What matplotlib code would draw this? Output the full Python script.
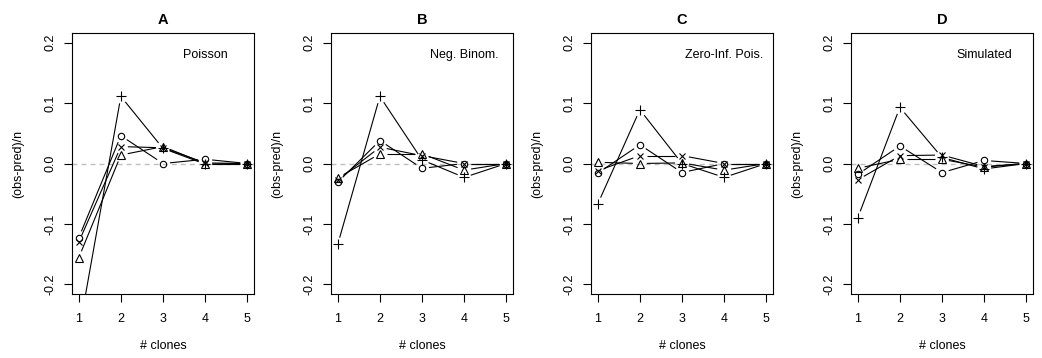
import numpy as np
import matplotlib
matplotlib.use("Agg")
import matplotlib.pyplot as plt

plt.rcParams['font.family'] = ['Liberation Sans', 'DejaVu Sans']

clones = [1, 2, 3, 4, 5]
panel_titles = ["A", "B", "C", "D"]
panel_notes = ["Poisson", "Neg. Binom.", "Zero-Inf. Pois.", "Simulated"]

# (obs-pred)/n for each panel, one list per symbol
circle_vals = [
    [-0.123, 0.046, 0.000, 0.007, 0.000],
    [-0.031, 0.038, -0.008, 0.000, 0.000],
    [-0.016, 0.031, -0.015, 0.000, 0.000],
    [-0.018, 0.029, -0.015, 0.005, 0.000],
]
cross_vals = [
    [-0.130, 0.028, 0.026, 0.001, 0.000],
    [-0.027, 0.027, 0.013, 0.000, 0.000],
    [-0.012, 0.013, 0.013, 0.000, 0.000],
    [-0.027, 0.013, 0.014, -0.005, 0.000],
]
triangle_vals = [
    [-0.156, 0.014, 0.028, 0.000, 0.000],
    [-0.024, 0.016, 0.016, -0.011, 0.000],
    [0.002, 0.000, 0.001, -0.011, 0.000],
    [-0.008, 0.007, 0.007, -0.006, 0.000],
]
plus_vals = [
    [-0.280, 0.111, 0.025, -0.001, 0.000],
    [-0.134, 0.111, 0.006, -0.023, 0.000],
    [-0.067, 0.089, 0.000, -0.023, 0.000],
    [-0.090, 0.093, 0.010, -0.009, 0.000],
]

yticks = [-0.2, -0.1, 0.0, 0.1, 0.2]
ytick_labels = ["-0.2", "-0.1", "0.0", "0.1", "0.2"]

FS = 9
GAP = 7.0  # px gap around each point, like R type="b"


def gapped_line(ax, x, y):
    # draw segments between points, leaving a gap around each point
    pts = ax.transData.transform(np.column_stack([x, y]))
    inv = ax.transData.inverted()
    for p0, p1 in zip(pts[:-1], pts[1:]):
        d = p1 - p0
        L = np.hypot(*d)
        if L <= 2 * GAP:
            continue
        u = d / L
        a = inv.transform(p0 + u * GAP)
        b = inv.transform(p1 - u * GAP)
        ax.plot([a[0], b[0]], [a[1], b[1]], color="black", lw=0.8,
                solid_capstyle="butt", zorder=2)


fig = plt.figure(figsize=(10.42, 3.58), dpi=100)
lefts = [72, 331, 591, 851]
for i in range(4):
    ax = fig.add_axes([lefts[i] / 1042, 1 - 294 / 358, 182 / 1042, 261 / 358])
    ax.set_xlim(0.84, 5.16)
    ax.set_ylim(-0.216, 0.216)

    ax.axhline(0, color="#bebebe", lw=1.0, ls=(0, (3.5, 3)), zorder=1)

    series = [
        (circle_vals[i], dict(marker="o", ms=4.6, mfc="none")),
        (cross_vals[i], dict(marker="x", ms=4.6)),
        (triangle_vals[i], dict(marker="^", ms=5.2, mfc="none")),
        (plus_vals[i], dict(marker="+", ms=6.5)),
    ]
    for vals, style in series:
        gapped_line(ax, clones, vals)
        ax.plot(clones, vals, ls="none", color="black", mec="black",
                mew=0.8, zorder=3, **style)

    ax.text(4, 0.18, panel_notes[i], ha="center", va="center", fontsize=FS)
    ax.set_title(panel_titles[i], fontsize=10.5, fontweight="bold", pad=6.5)

    ax.set_xticks(clones)
    ax.set_xticklabels([str(c) for c in clones])
    ax.set_yticks(yticks)
    ax.set_yticklabels(ytick_labels, rotation=90, va="center")
    ax.tick_params(axis="x", length=6, width=0.8, pad=7.5, labelsize=FS)
    ax.tick_params(axis="y", length=6, width=0.8, pad=5, labelsize=FS)
    for sp in ax.spines.values():
        sp.set_linewidth(0.8)

    ax.set_xlabel("# clones", fontsize=FS)
    ax.xaxis.set_label_coords(0.5, -0.175)
    ax.set_ylabel("(obs-pred)/n", fontsize=FS)
    ax.yaxis.set_label_coords(-0.265, 0.5)

fig.savefig("out.png", dpi=100)
